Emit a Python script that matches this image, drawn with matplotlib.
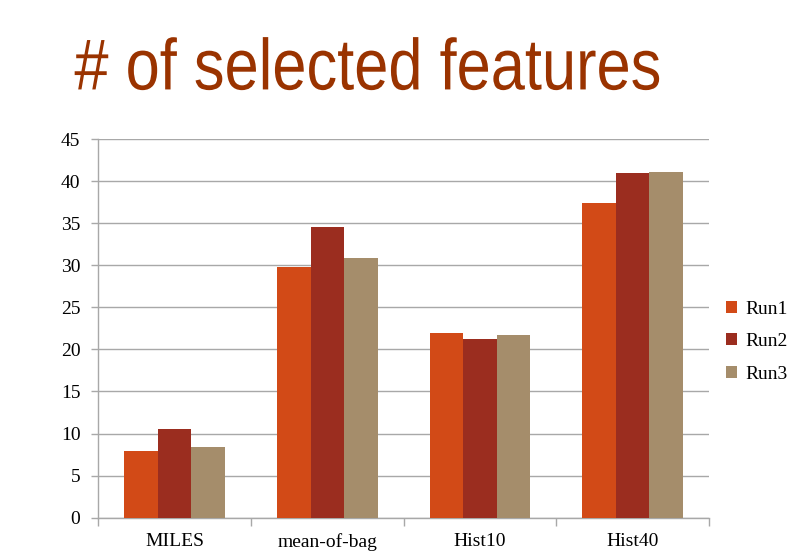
import matplotlib
matplotlib.use('Agg')
import matplotlib.pyplot as plt
import matplotlib.patheffects as pe
from matplotlib.transforms import Affine2D
import numpy as np

categories = ['MILES', 'mean-of-bag', 'Hist10', 'Hist40']
run1 = [7.9, 29.8, 21.9, 37.4]
run2 = [10.5, 34.6, 21.3, 41.0]
run3 = [8.4, 30.9, 21.7, 41.1]
series_names = ['Run1', 'Run2', 'Run3']
colors = ['#D24A17', '#9B2D1F', '#A58D6B']
y_ticks = np.arange(0, 46, 5)


class Condense(pe.AbstractPathEffect):
    """Squeeze glyphs horizontally about a fixed x (display coords)."""

    def __init__(self, x0, sx):
        super().__init__()
        self.x0 = x0
        self.sx = sx

    def draw_path(self, renderer, gc, tpath, affine, rgbFace=None):
        squeeze = Affine2D().translate(-self.x0, 0).scale(self.sx, 1).translate(self.x0, 0)
        renderer.draw_path(gc, tpath, affine + squeeze, rgbFace)


fig = plt.figure(figsize=(8, 5.59), dpi=100)
ax = fig.add_axes([0.123, 0.074, 0.763, 0.677])

x = np.arange(len(categories))
bar_w = 0.22
for i, (vals, name, c) in enumerate(zip([run1, run2, run3], series_names, colors)):
    ax.bar(x + (i - 1) * bar_w, vals, width=bar_w, color=c, label=name, zorder=3)

ax.set_xlim(-0.5, len(categories) - 0.5)
ax.set_ylim(0, 45)
ax.set_yticks(y_ticks)
ax.set_yticklabels([str(v) for v in y_ticks], family='Liberation Serif', fontsize=14)
ax.yaxis.grid(True, color='#A8A8A8', linewidth=1, zorder=0)

# category labels in the middle, tick marks on the group boundaries
ax.set_xticks(x)
ax.set_xticklabels(categories, family='Liberation Serif', fontsize=14)
ax.tick_params(axis='x', which='major', length=0, pad=11)
ax.set_xticks(np.arange(-0.5, len(categories), 1), minor=True)
ax.tick_params(axis='x', which='minor', length=6, color='#A8A8A8', width=1)
ax.tick_params(axis='y', length=5, color='#A8A8A8', width=1, pad=8)

for s in ['top', 'right']:
    ax.spines[s].set_visible(False)
for s in ['left', 'bottom']:
    ax.spines[s].set_color('#A8A8A8')
    ax.spines[s].set_linewidth(1)

ax.legend(loc='center left', bbox_to_anchor=(1.0, 0.465), frameon=False,
          prop={'family': 'Liberation Serif', 'size': 14},
          handlelength=0.55, handleheight=0.55, handletextpad=0.45, labelspacing=0.8)

title_x = 0.093
fig.text(title_x, 0.84, '# of selected features', color='#9A3300',
         family='Liberation Sans', fontsize=52, va='baseline',
         path_effects=[Condense(title_x * 800, 0.85)])

fig.savefig('out.png', dpi=100)
